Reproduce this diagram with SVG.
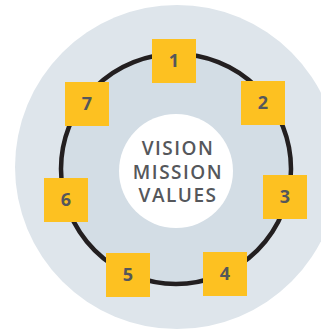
<svg xmlns="http://www.w3.org/2000/svg" width="321" height="332" viewBox="0 0 321 332">
<style>
.sq{fill:#fdc121}
.num{font-family:"Open Sans","Liberation Sans",sans-serif;font-weight:700;font-size:18px;fill:#55575b;text-anchor:middle}
.core{font-family:"Open Sans","Liberation Sans",sans-serif;font-weight:600;font-size:19px;letter-spacing:1.5px;fill:#55575b;text-anchor:middle}
</style>
<rect width="321" height="332" fill="#ffffff"/>
<circle cx="177" cy="167" r="162" fill="#dee5eb"/>
<g id="connectors">
<circle cx="176" cy="169" r="115" fill="#d3dde5" stroke="#231f20" stroke-width="4.5"/>
</g>
<g id="center">
<circle cx="176" cy="171" r="57" fill="#ffffff"/>
<text class="core" x="178" y="155">VISION</text>
<text class="core" x="178" y="178.5">MISSION</text>
<text class="core" x="178" y="202">VALUES</text>
</g>
<g id="n1"><rect class="sq" x="152" y="39" width="44" height="44"/><text class="num" x="174" y="67">1</text></g>
<g id="n2"><rect class="sq" x="241" y="81" width="44" height="44"/><text class="num" x="263" y="109">2</text></g>
<g id="n3"><rect class="sq" x="263" y="175" width="44" height="44"/><text class="num" x="285" y="203">3</text></g>
<g id="n4"><rect class="sq" x="203" y="252" width="44" height="44"/><text class="num" x="225" y="280">4</text></g>
<g id="n5"><rect class="sq" x="106" y="253" width="44" height="44"/><text class="num" x="128" y="281">5</text></g>
<g id="n6"><rect class="sq" x="44" y="178" width="44" height="44"/><text class="num" x="66" y="206">6</text></g>
<g id="n7"><rect class="sq" x="65" y="82" width="44" height="44"/><text class="num" x="87" y="110">7</text></g>
</svg>
